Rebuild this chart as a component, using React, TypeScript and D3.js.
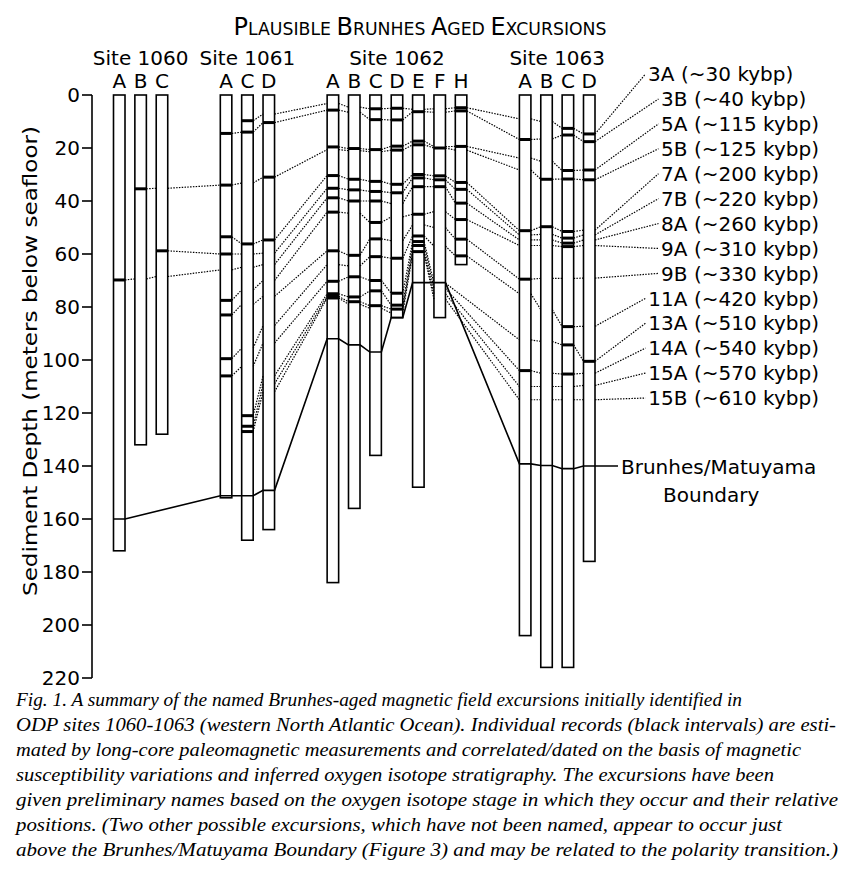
import React from "react";
import * as d3 from "d3";

// ---------- data ----------
const columnKeys = ["1060A","1060B","1060C","1061A","1061C","1061D","1062A","1062B","1062C","1062D","1062E","1062F","1062H","1063A","1063B","1063C","1063D"];
const columnLetters = ["A","B","C","A","C","D","A","B","C","D","E","F","H","A","B","C","D"];
const columnSlots = [0,1,2,5,6,7,10,11,12,13,14,15,16,19,20,21,22];
const columnBottoms = [172,132,128,152,168,164,184,156,136,84,148,84,64,204,216,216,176];

const siteNames = ["Site 1060","Site 1061","Site 1062","Site 1063"];
const siteFirstCol = [0,3,6,13];
const siteLastCol = [2,5,12,16];

const depthTicks = [0,20,40,60,80,100,120,140,160,180,200,220];

const excursionNames = ["3A","3B","5A","5B","7A","7B","8A","9A","9B","11A","13A","14A","15A","15B"];
const excursionAges = ["~30","~40","~115","~125","~200","~220","~260","~310","~330","~420","~510","~540","~570","~610"];

const _ = null;
// depth (m) at which each excursion passes each column (null = not traced)
const depth3A  = [_,_,_,_,9.7,7.2,3.2,4.6,5.2,5.0,5.4,5.2,4.8,9.0,10.0,12.6,14.7];
const depth3B  = [_,_,_,14.5,14.0,10.4,5.7,6.5,9.3,9.4,6.3,6.5,6.0,16.8,16.6,15.1,17.6];
const depth5A  = [_,_,_,_,_,_,19.6,20.2,20.6,19.3,17.4,19.5,19.4,23.8,25.0,28.5,28.3];
const depth5B  = [_,35.4,35.2,34.0,33.2,31.0,20.6,21.0,21.4,20.8,18.8,20.0,20.8,28.3,31.8,31.7,32.0];
const depth7A  = [_,_,_,53.5,56.2,54.7,30.4,31.8,32.6,33.7,30.0,30.5,33.0,51.2,49.7,51.5,51.0];
const depth7B  = [_,_,58.8,60.0,60.0,59.7,35.2,35.8,36.4,36.9,31.3,32.0,35.6,52.8,52.6,54.0,52.8];
const depth8A  = [69.8,69.4,68.5,66.0,65.0,64.0,38.8,40.0,40.0,41.0,34.6,34.6,40.8,54.7,54.7,55.9,54.7];
const depth9A  = [_,_,_,77.5,73.5,70.0,44.2,44.6,48.1,46.0,45.0,44.0,47.0,56.8,56.8,57.2,56.8];
const depth9B  = [_,_,_,83.0,79.0,76.0,58.8,60.5,54.3,55.0,49.0,50.0,54.4,69.5,69.2,69.2,69.1];
const depth11A = [_,_,_,99.5,95.5,87.0,64.0,64.5,61.0,61.6,53.2,57.0,60.7,75.0,81.0,87.4,87.3];
const depth13A = [_,_,_,106.0,102.4,93.6,70.3,68.6,70.0,74.8,55.3,71.0,_,92.4,93.0,94.3,100.5];
const depth14A = [_,_,_,_,121.0,106.0,75.0,76.2,73.9,79.3,56.8,73.0,_,104.0,105.0,105.3,105.0];
const depth15A = [_,_,_,_,125.0,109.0,76.0,78.0,79.5,80.8,59.1,75.0,_,110.0,110.0,110.0,109.6];
const depth15B = [_,_,_,_,127.0,112.0,76.6,79.0,80.5,82.3,60.0,77.0,_,115.0,115.0,115.0,115.0];

// 1 = black interval (identified record) in that column
const marks3A  = [0,0,0,0,1,0,0,0,1,1,0,0,1,0,0,1,1];
const marks3B  = [0,0,0,1,1,1,1,0,1,1,1,0,1,1,0,1,1];
const marks5A  = [0,0,0,0,0,0,1,1,1,1,1,0,1,0,0,1,1];
const marks5B  = [0,1,0,1,0,1,0,0,0,1,1,1,0,0,1,1,1];
const marks7A  = [0,0,0,1,1,1,1,1,1,1,1,1,1,1,1,1,0];
const marks7B  = [0,0,1,1,0,0,1,1,1,1,1,1,1,0,0,1,0];
const marks8A  = [1,0,0,0,0,0,1,1,1,0,1,1,1,0,0,1,0];
const marks9A  = [0,0,0,1,0,0,1,0,1,0,1,0,1,0,0,1,0];
const marks9B  = [0,0,0,1,0,0,1,1,1,0,0,0,1,1,0,0,0];
const marks11A = [0,0,0,1,0,0,0,0,1,1,1,0,1,0,0,1,0];
const marks13A = [0,0,0,1,0,0,1,1,1,1,1,0,0,0,0,1,1];
const marks14A = [0,0,0,0,1,0,1,1,1,1,1,0,0,1,0,1,0];
const marks15A = [0,0,0,0,1,0,1,1,1,1,1,0,0,0,0,0,0];
const marks15B = [0,0,0,0,1,0,1,0,0,0,0,0,0,0,0,0,0];

const excursionDepths = [depth3A,depth3B,depth5A,depth5B,depth7A,depth7B,depth8A,depth9A,depth9B,depth11A,depth13A,depth14A,depth15A,depth15B];
const excursionMarks = [marks3A,marks3B,marks5A,marks5B,marks7A,marks7B,marks8A,marks9A,marks9B,marks11A,marks13A,marks14A,marks15A,marks15B];

const boundaryDepths = [160,_,_,151.2,151.2,149.2,92,94.3,97,84,70.8,70.8,_,139.2,139.8,141,140];

const captionLines = [
  "Fig. 1. A summary of the named Brunhes-aged magnetic field excursions initially identified in",
  "ODP sites 1060-1063 (western North Atlantic Ocean). Individual records (black intervals) are esti-",
  "mated by long-core paleomagnetic measurements and correlated/dated on the basis of magnetic",
  "susceptibility variations and inferred oxygen isotope stratigraphy. The excursions have been",
  "given preliminary names based on the oxygen isotope stage in which they occur and their relative",
  "positions. (Two other possible excursions, which have not been named, appear to occur just",
  "above the Brunhes/Matuyama Boundary (Figure 3) and may be related to the polarity transition.)",
];
const captionWidths = [726, 820, 785, 758, 822, 766, 822];

// ---------- layout ----------
const W = 848, H = 876;
const colW = 11.5;
const SANS = "DejaVu Sans";

export default function App() {
  const x = d3.scaleLinear().domain([0, 22]).range([113.5, 583.5]);
  const y = d3.scaleLinear().domain([0, 220]).range([95, 678]);
  const labelY = d3.scalePoint<string>().domain(excursionNames).range([74, 398]);
  const codeRight = 687.5;
  const labelShift = (n: string) => (n === "3A" ? -13 : 0);

  const left = (i: number) => x(columnSlots[i]);
  const right = (i: number) => x(columnSlots[i]) + colW;
  const lineGen = d3.line<[number, number]>();

  // dotted correlation paths
  const dotted: string[] = [];
  excursionDepths.forEach((deps, e) => {
    let prev = -1;
    deps.forEach((d, i) => {
      if (d == null) return;
      if (prev >= 0) {
        dotted.push(lineGen([[right(prev), y(deps[prev] as number)], [left(i), y(d)]]) as string);
      }
      prev = i;
    });
    const name = excursionNames[e];
    const codeW = name.length * 13;
    dotted.push(lineGen([[right(prev), y(deps[prev] as number)], [codeRight + labelShift(name) - codeW - 3, labelY(name) as number]]) as string);
  });

  // boundary polyline
  const bPts: [number, number][] = [];
  boundaryDepths.forEach((d, i) => {
    if (d == null) return;
    bPts.push([left(i), y(d)]);
    bPts.push([right(i), y(d)]);
  });
  bPts.push([618, y(140)]);

  const monoMarks: { x1: number; x2: number; yy: number }[] = [];
  excursionDepths.forEach((deps, e) => {
    deps.forEach((d, i) => {
      if (d != null && excursionMarks[e][i]) monoMarks.push({ x1: left(i), x2: right(i), yy: y(d) });
    });
  });

  const bigT = 24, smallT = 17.3;

  return (
    <svg width={W} height={H} style={{ position: "absolute", left: 0, top: 0, background: "#fff" }}>
      <rect width={W} height={H} fill="#fff" />
      {/* title */}
      <text x={420} y={35} textAnchor="middle" fontFamily={SANS} fill="#000">
        <tspan fontSize={bigT}>P</tspan><tspan fontSize={smallT}>LAUSIBLE </tspan>
        <tspan fontSize={bigT}>B</tspan><tspan fontSize={smallT}>RUNHES </tspan>
        <tspan fontSize={bigT}>A</tspan><tspan fontSize={smallT}>GED </tspan>
        <tspan fontSize={bigT}>E</tspan><tspan fontSize={smallT}>XCURSIONS</tspan>
      </text>
      {/* site labels */}
      {siteNames.map((s, k) => (
        <text key={s} x={(left(siteFirstCol[k]) + right(siteLastCol[k])) / 2} y={65} textAnchor="middle" fontFamily={SANS} fontSize={20}>{s}</text>
      ))}
      {columnLetters.map((l, i) => (
        <text key={i} x={left(i) + colW / 2} y={88} textAnchor="middle" fontFamily={SANS} fontSize={20}>{l}</text>
      ))}
      {/* axis */}
      <line x1={92} x2={92} y1={y(0)} y2={y(220)} stroke="#000" strokeWidth={1.6} />
      {depthTicks.map(t => (
        <g key={t}>
          <line x1={82} x2={92} y1={y(t)} y2={y(t)} stroke="#000" strokeWidth={1.6} />
          <text x={80} y={y(t)} dy="0.36em" textAnchor="end" fontFamily={SANS} fontSize={20}>{t}</text>
        </g>
      ))}
      <text transform={`translate(37,${361}) rotate(-90)`} textAnchor="middle" fontFamily={SANS} fontSize={20}
        textLength={470} lengthAdjust="spacingAndGlyphs">
        Sediment Depth (meters below seafloor)
      </text>
      {/* dotted correlations */}
      <g fill="none" stroke="#000" strokeWidth={1.2} strokeDasharray="1.5 1.3">
        {dotted.map((p, i) => <path key={i} d={p} />)}
      </g>
      {/* columns */}
      {columnKeys.map((k, i) => (
        <rect key={k} x={left(i)} y={y(0)} width={colW} height={y(columnBottoms[i]) - y(0)} fill="none" stroke="#000" strokeWidth={1.6} />
      ))}
      {/* black intervals */}
      {monoMarks.map((m, i) => (
        <line key={i} x1={m.x1} x2={m.x2} y1={m.yy} y2={m.yy} stroke="#000" strokeWidth={3} />
      ))}
      {/* boundary */}
      <path d={lineGen(bPts) as string} fill="none" stroke="#000" strokeWidth={1.6} />
      <text x={621} y={474} fontFamily={SANS} fontSize={20}>Brunhes/Matuyama</text>
      <text x={663} y={502} fontFamily={SANS} fontSize={20}>Boundary</text>
      {/* excursion labels */}
      {excursionNames.map((n, i) => (
        <g key={n}>
          <text x={codeRight + labelShift(n)} y={(labelY(n) as number)} dy="0.36em" textAnchor="end" fontFamily={SANS} fontSize={20}>{n}</text>
          <text x={694 + labelShift(n)} y={(labelY(n) as number)} dy="0.36em" fontFamily={SANS} fontSize={20}>({excursionAges[i]} kybp)</text>
        </g>
      ))}
      {/* caption */}
      {captionLines.map((l, i) => (
        <text key={i} x={16} y={706 + i * 25} fontFamily="Liberation Serif" fontStyle="italic" fontSize={18}
          textLength={captionWidths[i]} lengthAdjust="spacingAndGlyphs">{l}</text>
      ))}
    </svg>
  );
}
